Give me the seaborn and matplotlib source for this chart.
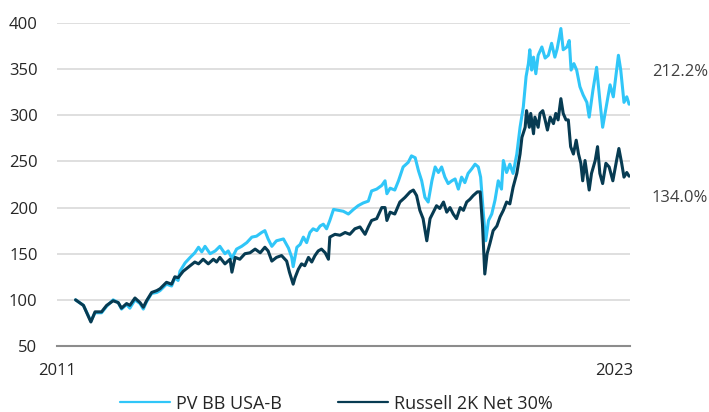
import matplotlib
matplotlib.use('Agg')
import matplotlib.pyplot as plt
import matplotlib.transforms as mtransforms
import pandas as pd
import seaborn as sns

# Series (base 100), años en decimal
nombres = ['PV BB USA-B', 'Russell 2K Net 30%']
colores = ['#30C6F8', '#073B52']
etiquetas_finales = ['212.2%', '134.0%']
ticks_x = [2011, 2023]
ticks_y = [50, 100, 150, 200, 250, 300, 350, 400]

anios_pv = [
    2011.40, 2011.57, 2011.73, 2011.82, 2011.96, 2012.07, 2012.21, 2012.32, 2012.39, 2012.50,
    2012.57, 2012.68, 2012.79, 2012.86, 2012.93, 2013.04, 2013.15, 2013.22, 2013.36, 2013.47,
    2013.54, 2013.61, 2013.65, 2013.76, 2013.87, 2013.97, 2014.05, 2014.12, 2014.19, 2014.30,
    2014.41, 2014.51, 2014.62, 2014.69, 2014.77, 2014.87, 2014.98, 2015.09, 2015.20, 2015.30,
    2015.41, 2015.48, 2015.55, 2015.63, 2015.73, 2015.88, 2015.99, 2016.06, 2016.09, 2016.17,
    2016.24, 2016.31, 2016.38, 2016.45, 2016.52, 2016.60, 2016.67, 2016.74, 2016.81, 2016.88,
    2016.96, 2017.06, 2017.17, 2017.28, 2017.39, 2017.49, 2017.60, 2017.71, 2017.78, 2017.89,
    2018.00, 2018.07, 2018.11, 2018.18, 2018.28, 2018.36, 2018.46, 2018.57, 2018.64, 2018.72,
    2018.79, 2018.86, 2018.93, 2019.00, 2019.08, 2019.15, 2019.22, 2019.29, 2019.36, 2019.43,
    2019.51, 2019.58, 2019.65, 2019.72, 2019.79, 2019.86, 2019.94, 2020.01, 2020.08, 2020.13,
    2020.19, 2020.24, 2020.30, 2020.37, 2020.44, 2020.51, 2020.58, 2020.62, 2020.69, 2020.76,
    2020.83, 2020.91, 2020.98, 2021.05, 2021.11, 2021.16, 2021.19, 2021.23, 2021.27, 2021.32,
    2021.37, 2021.45, 2021.52, 2021.59, 2021.66, 2021.73, 2021.78, 2021.86, 2021.91, 2021.99,
    2022.04, 2022.08, 2022.14, 2022.20, 2022.27, 2022.34, 2022.42, 2022.47, 2022.55, 2022.63,
    2022.70, 2022.76, 2022.83, 2022.92, 2022.99, 2023.10, 2023.15, 2023.22, 2023.28, 2023.33,
]
valores_pv = [
    100, 94, 77, 86, 86, 93, 100, 97, 90, 95,
    91, 100, 96, 90, 98, 107, 108, 110, 117, 115,
    124, 121, 131, 140, 146, 151, 157, 152, 158, 150,
    153, 158, 150, 153, 145, 155, 158, 162, 168, 169,
    173, 175, 166, 158, 164, 166, 156, 146, 136, 157,
    160, 168, 162, 173, 177, 175, 180, 182, 177, 186,
    198, 197, 196, 193, 198, 202, 205, 207, 218, 220,
    224, 229, 215, 221, 219, 229, 244, 249, 256, 254,
    240, 229, 211, 206, 229, 244, 238, 244, 233, 226,
    229, 231, 220, 233, 227, 237, 242, 247, 244, 233,
    193, 164, 186, 193, 208, 229, 220, 251, 238, 247,
    237, 258, 287, 309, 342, 356, 371, 349, 363, 345,
    365, 374, 362, 365, 378, 363, 372, 394, 371, 374,
    381, 349, 356, 349, 331, 322, 314, 298, 327, 352,
    316, 287, 307, 333, 320, 365, 349, 314, 320, 312,
]

anios_r2k = [
    2011.40, 2011.57, 2011.73, 2011.82, 2011.96, 2012.07, 2012.21, 2012.32, 2012.39, 2012.50,
    2012.57, 2012.68, 2012.79, 2012.86, 2012.93, 2013.04, 2013.15, 2013.22, 2013.36, 2013.47,
    2013.54, 2013.61, 2013.72, 2013.87, 2013.97, 2014.05, 2014.15, 2014.26, 2014.37, 2014.44,
    2014.51, 2014.62, 2014.73, 2014.77, 2014.84, 2014.94, 2015.05, 2015.16, 2015.27, 2015.38,
    2015.48, 2015.55, 2015.63, 2015.73, 2015.84, 2015.95, 2016.01, 2016.06, 2016.09, 2016.13,
    2016.20, 2016.27, 2016.34, 2016.42, 2016.49, 2016.56, 2016.63, 2016.70, 2016.78, 2016.85,
    2016.88, 2016.99, 2017.10, 2017.21, 2017.31, 2017.42, 2017.53, 2017.64, 2017.71, 2017.78,
    2017.89, 2018.00, 2018.07, 2018.11, 2018.18, 2018.28, 2018.39, 2018.50, 2018.61, 2018.68,
    2018.75, 2018.82, 2018.89, 2018.97, 2019.04, 2019.11, 2019.18, 2019.25, 2019.33, 2019.40,
    2019.47, 2019.54, 2019.61, 2019.69, 2019.76, 2019.83, 2019.90, 2019.97, 2020.06, 2020.12,
    2020.17, 2020.22, 2020.27, 2020.33, 2020.40, 2020.48, 2020.55, 2020.62, 2020.69, 2020.76,
    2020.83, 2020.91, 2020.98, 2021.02, 2021.09, 2021.12, 2021.18, 2021.21, 2021.27, 2021.30,
    2021.37, 2021.41, 2021.47, 2021.52, 2021.57, 2021.63, 2021.70, 2021.75, 2021.80, 2021.86,
    2021.91, 2021.97, 2022.02, 2022.07, 2022.13, 2022.19, 2022.24, 2022.29, 2022.33, 2022.38,
    2022.43, 2022.47, 2022.52, 2022.60, 2022.65, 2022.70, 2022.76, 2022.83, 2022.90, 2022.98,
    2023.06, 2023.11, 2023.17, 2023.22, 2023.28, 2023.33,
]
valores_r2k = [
    100, 94, 76, 87, 87, 94, 99, 97, 91, 96,
    94, 102, 97, 92, 99, 108, 110, 112, 119, 117,
    125, 124, 131, 137, 141, 139, 144, 139, 144, 141,
    146, 139, 144, 130, 146, 144, 150, 151, 155, 151,
    157, 153, 142, 146, 148, 142, 130, 122, 117, 124,
    133, 139, 137, 146, 141, 148, 153, 155, 151, 144,
    168, 171, 170, 173, 171, 177, 179, 171, 179, 186,
    188, 200, 200, 186, 195, 193, 206, 211, 217, 219,
    213, 197, 188, 164, 188, 195, 202, 199, 206, 195,
    200, 193, 188, 200, 197, 206, 209, 213, 217, 217,
    182, 128, 150, 161, 175, 180, 190, 197, 206, 204,
    222, 237, 258, 276, 287, 305, 287, 302, 280, 298,
    287, 302, 305, 295, 284, 298, 291, 302, 295, 318,
    302, 295, 295, 266, 258, 273, 258, 248, 229, 251,
    233, 219, 237, 251, 266, 237, 226, 248, 244, 229,
    251, 264, 248, 233, 238, 234,
]

df = pd.concat([
    pd.DataFrame({'anio': anios_pv, 'valor': valores_pv, 'serie': nombres[0]}),
    pd.DataFrame({'anio': anios_r2k, 'valor': valores_r2k, 'serie': nombres[1]}),
])

sns.set_style('white')
plt.rcParams['font.family'] = ['Open Sans', 'DejaVu Sans']

fig = plt.figure(figsize=(7.09, 4.12), dpi=100)
ax = fig.add_axes([0.0804, 0.1602, 0.8082, 0.784])

sns.lineplot(
    data=df, x='anio', y='valor', hue='serie',
    palette=dict(zip(nombres, colores)), hue_order=nombres,
    estimator=None, sort=False, linewidth=2.2, ax=ax,
)

ax.set_xlim(2011, 2023.35)
ax.set_ylim(50, 400)
ax.set_xticks(ticks_x)
ax.set_xticklabels([str(t) for t in ticks_x])
ax.set_yticks(ticks_y)
ax.set_xlabel('')
ax.set_ylabel('')

ax.yaxis.grid(True, color='#D9D9D9', linewidth=1.2)
ax.set_axisbelow(True)
for s in ['top', 'right', 'left']:
    ax.spines[s].set_visible(False)
ax.spines['bottom'].set_color('#8C8C8C')
ax.spines['bottom'].set_linewidth(1.5)

ax.tick_params(axis='y', length=0, pad=14, labelsize=12, labelcolor='#262626')
ax.tick_params(axis='x', length=4, width=1.2, color='#8C8C8C', pad=8,
               labelsize=12, labelcolor='#262626')

# Etiquetas de rendimiento a la derecha
trans = mtransforms.blended_transform_factory(ax.transAxes, ax.transData)
ax.text(1.038, 346.7, etiquetas_finales[0], transform=trans, va='center', ha='left',
        fontsize=12, color='#404040')
ax.text(1.038, 210.9, etiquetas_finales[1], transform=trans, va='center', ha='left',
        fontsize=12, color='#404040')

handles, labels = ax.get_legend_handles_labels()
leg = ax.legend(handles, labels, loc='center', bbox_to_anchor=(0.4746, 0.02),
                bbox_transform=fig.transFigure, ncol=2, frameon=False,
                handlelength=2.75, handletextpad=0.35, columnspacing=3.1, fontsize=13)
for linea in leg.get_lines():
    linea.set_linewidth(1.6)

fig.savefig('out.png', dpi=100)
